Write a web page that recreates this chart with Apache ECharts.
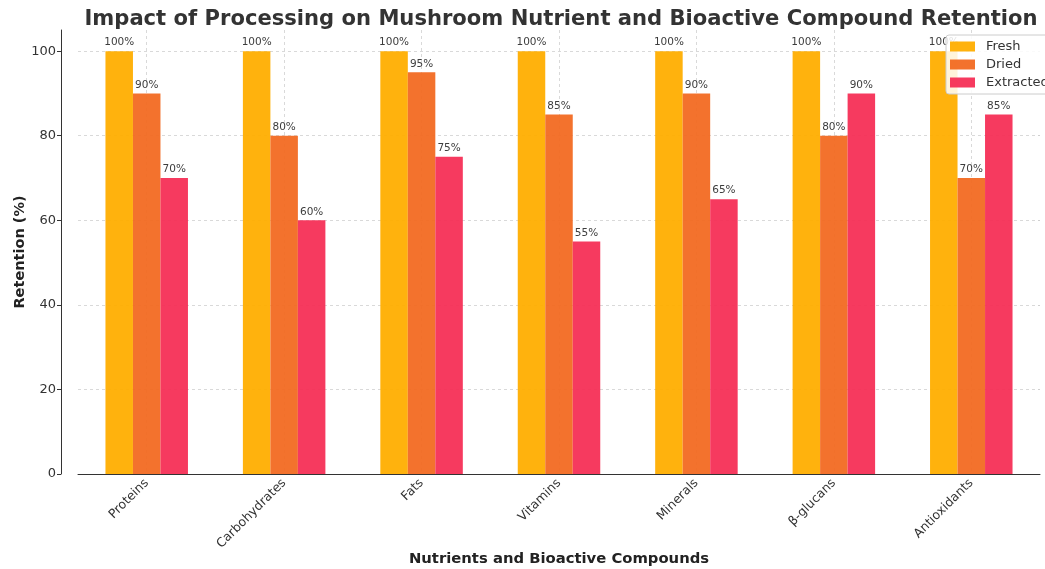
<!DOCTYPE html>
<html>
<head>
<meta charset="utf-8">
<script src="https://cdn.jsdelivr.net/npm/echarts@6/dist/echarts.min.js"></script>
<style>html,body{margin:0;padding:0;background:#fff;}#c{width:1045px;height:569px;}</style>
</head>
<body>
<div id="c"></div>
<script>
const categories = ['Proteins', 'Carbohydrates', 'Fats', 'Vitamins', 'Minerals', 'β-glucans', 'Antioxidants'];
const fresh = [100, 100, 100, 100, 100, 100, 100];
const dried = [90, 80, 95, 85, 90, 80, 70];
const extracted = [70, 60, 75, 55, 65, 90, 85];
const yTicks = [0, 20, 40, 60, 80, 100];

const FONT = 'DejaVu Sans';
const chart = echarts.init(document.getElementById('c'));
function series(name, data, color) {
  return {
    name: name, type: 'bar', data: data, barWidth: 27.5, barGap: '0%',
    itemStyle: { color: color, opacity: 0.95 },
    label: { show: true, position: 'top', distance: 3, formatter: '{c}%', fontFamily: FONT, fontSize: 10.5, color: '#333' }
  };
}
chart.setOption({
  animation: false,
  textStyle: { fontFamily: FONT },
  title: {
    text: 'Impact of Processing on Mushroom Nutrient and Bioactive Compound Retention',
    left: 556, textAlign: 'center', top: 4,
    textStyle: { fontFamily: FONT, fontSize: 21.1, fontWeight: 'bold', color: '#333' }
  },
  legend: {
    orient: 'vertical', left: 946, top: 35,
    icon: 'rect', itemWidth: 25, itemHeight: 10, itemGap: 5,
    backgroundColor: 'rgba(255,255,255,0.85)', borderColor: '#cccccc', borderWidth: 1, borderRadius: 3,
    padding: [5, 10, 5, 4],
    textStyle: { fontFamily: FONT, fontSize: 13, color: '#333', padding: [0, 0, 0, 6] },
    data: ['Fresh', 'Dried', 'Extracted']
  },
  grid: { left: 78, right: 5, top: 30, bottom: 95, containLabel: false, outerBoundsMode: 'none' },
  xAxis: {
    type: 'category', data: categories,
    name: 'Nutrients and Bioactive Compounds', nameLocation: 'middle', nameGap: 78, nameMoveOverlap: false,
    nameTextStyle: { fontFamily: FONT, fontSize: 14.8, fontWeight: 'bold', color: '#222' },
    axisLine: { lineStyle: { color: '#333', width: 1 } },
    axisTick: { alignWithLabel: true, length: 4, lineStyle: { color: '#333' } },
    axisLabel: { rotate: 45, interval: 0, margin: 7, fontFamily: FONT, fontSize: 12.5, color: '#333' },
    splitLine: { show: true, alignWithLabel: true, lineStyle: { color: '#d0d0d0', type: [3, 3], width: 0.8 } }
  },
  yAxis: {
    type: 'value', min: 0, max: 105, interval: 20, offset: 17,
    name: 'Retention (%)', nameLocation: 'middle', nameGap: 33, nameMoveOverlap: false,
    nameTextStyle: { fontFamily: FONT, fontSize: 14.5, fontWeight: 'bold', color: '#222' },
    axisLine: { show: true, lineStyle: { color: '#333', width: 1 } },
    axisTick: { show: true, length: 4, lineStyle: { color: '#333' }, customValues: yTicks },
    axisLabel: { margin: 5, fontFamily: FONT, fontSize: 13, color: '#333', customValues: yTicks },
    splitLine: { show: true, lineStyle: { color: '#d0d0d0', type: [3, 3], width: 0.8 } }
  },
  series: [
    series('Fresh', fresh, '#FFAE00'),
    series('Dried', dried, '#F26A22'),
    series('Extracted', extracted, '#F62F56')
  ]
});
</script>
</body>
</html>
